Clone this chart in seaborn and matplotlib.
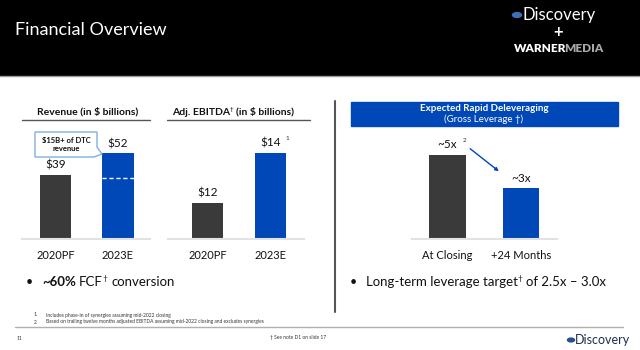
import numpy as np
import matplotlib
matplotlib.use('Agg')
import matplotlib.pyplot as plt
import matplotlib.patches as mpatches
import seaborn as sns

## Data
rev_cats     = ['2020PF', '2023E']
rev_vals     = [39, 52]
rev_labels   = ['$39', '$52']
dtc_rev      = 15
ebitda_cats  = ['2020PF', '2023E']
ebitda_vals  = [12, 14]
ebitda_labels= ['$12', '$14']
lev_cats     = ['At Closing', '+24 Months']
lev_vals     = [5, 3]
lev_labels   = ['~5x', '~3x']

## Style
dark  = '#3a3a3a'
blue  = '#0047b8'
ink   = '#111111'
W, H  = 640, 350
sns.set_theme(style='white')
plt.rcParams['font.family'] = ['Lato', 'DejaVu Sans']

fig = plt.figure(figsize=(6.4, 3.5), dpi=100)
renderer = fig.canvas.get_renderer()

def fx(x):
    return x / W

def fy(y):
    return 1 - y / H

def add_ax(x0, y0, x1, y1):
    return fig.add_axes([fx(x0), fy(y1), (x1 - x0) / W, (y1 - y0) / H])

def chain(x, y, pieces):
    # pieces: (text, size, weight, color, dy, gap) placed one after another
    for txt, size, weight, color, dy, gap in pieces:
        t = fig.text(fx(x), fy(y + dy), txt, fontsize=size, fontweight=weight, color=color,
                     ha='left', va='center')
        x = t.get_window_extent(renderer).x1 + gap

## Header band
fig.patches.append(mpatches.Rectangle((0, fy(75)), 1, 75 / H, transform=fig.transFigure,
                                      color='black', zorder=0))
fig.add_artist(plt.Line2D([0, 1], [fy(76), fy(76)], color='#9a9a9a', lw=1))
fig.text(fx(15), fy(30), 'Financial Overview', color='white', fontsize=13,
         va='center', ha='left')
fig.patches.append(mpatches.Circle((fx(517), fy(15)), 4.5 / W, transform=fig.transFigure,
                                   color='#3d6fb6', zorder=3))
fig.text(fx(522), fy(15), 'Discovery', color='white', fontsize=12, va='center', ha='left')
fig.text(fx(558), fy(32), '+', color='white', fontsize=12, fontweight='bold', va='center', ha='center')
chain(514, 48, [('WARNER', 8.5, 'heavy', 'white', 0, -2),
                ('MEDIA', 8.5, 'heavy', '#a8a8a8', 0, 0)])

## Generic bar panel
def bar_panel(ax, cats, vals, labels, px_per_unit, base, xlim):
    sns.barplot(x=cats, y=vals, hue=cats, palette=[dark, blue], width=0.5, saturation=1,
                legend=False, linewidth=0, ax=ax)
    ax.set_xlim(xlim)
    ax.set_ylim(base, base + 109 / px_per_unit)
    sns.despine(ax=ax, left=True, top=True, right=True)
    ax.spines['bottom'].set_color('#e2e2e2')
    ax.spines['bottom'].set_linewidth(1.5)
    ax.set_yticks([])
    ax.tick_params(axis='x', length=0, pad=8, labelsize=8, colors=ink)
    for cont, lab in zip(ax.containers, labels):
        ax.bar_label(cont, labels=[lab], padding=3, fontsize=8.5, color=ink)
    ax.set_facecolor('none')

## Revenue
ax1 = add_ax(22, 130, 150, 239)
bar_panel(ax1, rev_cats, rev_vals, rev_labels, 1.645, 0, (-0.536, 1.512))
ax1.hlines(rev_vals[1] - dtc_rev, 0.75, 1.25, colors='white', linestyles=(0, (3, 2)), lw=1)
fig.text(fx(88), fy(112), 'Revenue (in $ billions)', fontsize=7.5, fontweight='bold',
         ha='center', va='center', color=ink)
fig.add_artist(plt.Line2D([fx(22), fx(150)], [fy(120), fy(120)], color='#555555', lw=1))

# callout
callout = mpatches.Polygon([(fx(35), fy(132)), (fx(97), fy(132)), (fx(97), fy(147)),
                            (fx(102), fy(154)), (fx(94), fy(157)), (fx(35), fy(157))],
                           closed=True, transform=fig.transFigure, facecolor='white',
                           edgecolor='#7fb0e0', lw=1, zorder=5)
fig.patches.append(callout)
fig.text(fx(66), fy(144.5), '$15B+ of DTC\nrevenue', fontsize=5.5, fontweight='bold',
         ha='center', va='center', linespacing=1.3, color=ink, zorder=6)

## Adj. EBITDA
ax2 = add_ax(168, 130, 304, 239)
bar_panel(ax2, ebitda_cats, ebitda_vals, ebitda_labels, 25, 10.56, (-0.627, 1.532))
chain(172, 112, [('Adj. EBITDA', 7.5, 'bold', ink, 0, -0.5),
                 ('\u2020', 4.5, 'normal', ink, -2.5, 3),
                 ('(in $ billions)', 7.5, 'bold', ink, 0, 0)])
fig.add_artist(plt.Line2D([fx(167), fx(310)], [fy(120), fy(120)], color='#555555', lw=1))
fig.text(fx(287), fy(138), '1', fontsize=4.5, ha='center', va='center', color='#333333')

## Leverage
ax3 = add_ax(412, 130, 557, 239)
bar_panel(ax3, lev_cats, lev_vals, lev_labels, 16.9, 0, (-0.483, 1.49))
fig.text(fx(465), fy(141), '2', fontsize=4.5, ha='center', va='center', color='#333333')
fig.patches.append(mpatches.Rectangle((fx(351), fy(126)), 267 / W, 24 / H,
                                      transform=fig.transFigure, color=blue, zorder=1))
fig.text(fx(484), fy(108.5), 'Expected Rapid Deleveraging', fontsize=7, fontweight='bold',
         color='white', ha='center', va='center')
fig.text(fx(484), fy(119.5), '(Gross Leverage \u2020)', fontsize=7, color='white',
         ha='center', va='center')
fig.add_artist(mpatches.FancyArrowPatch((fx(468), fy(147)), (fx(501), fy(173)),
                                        transform=fig.transFigure, arrowstyle='-|>',
                                        mutation_scale=5, color=blue, lw=1))

# divider
fig.add_artist(plt.Line2D([fx(335), fx(335)], [fy(101), fy(312)], color='#555555', lw=1.5))

## Bullets
fig.text(fx(29), fy(282), '\u2022', fontsize=9, ha='center', va='center', color=ink)
chain(42, 282, [('~60%', 9.5, 'bold', ink, 0, 3),
                ('FCF', 9.5, 'normal', ink, 0, -0.5),
                ('\u2020', 6, 'normal', ink, -3, 4),
                ('conversion', 9.5, 'normal', ink, 0, 0)])

fig.text(fx(353), fy(282), '\u2022', fontsize=9, ha='center', va='center', color=ink)
chain(366, 282, [('Long-term leverage target', 9.5, 'normal', ink, 0, -0.5),
                 ('\u2020', 6, 'normal', ink, -3, 4),
                 ('of 2.5x \u2013 3.0x', 9.5, 'normal', ink, 0, 0)])

## Footnotes
fig.text(fx(34), fy(315), '1.', fontsize=3.5, ha='left', va='center', color='#333333')
fig.text(fx(46), fy(315), 'Includes phase-in of synergies assuming mid-2022 closing',
         fontsize=3.5, ha='left', va='center', color='#333333')
fig.text(fx(34), fy(322), '2.', fontsize=3.5, ha='left', va='center', color='#333333')
fig.text(fx(46), fy(322), 'Based on trailing twelve months adjusted EBITDA assuming mid-2022 closing and excludes synergies',
         fontsize=3.5, ha='left', va='center', color='#333333')
fig.add_artist(plt.Line2D([fx(15), fx(623)], [fy(327), fy(327)], color='#b0b0b0', lw=1))
fig.text(fx(17), fy(338), '11', fontsize=3.5, ha='left', va='center', color='#333333')
fig.text(fx(270), fy(338), '\u2020 See note D1 on slide 17', fontsize=3.5, ha='left', va='center', color='#333333')
fig.patches.append(mpatches.Circle((fx(571), fy(340)), 3.5 / W, transform=fig.transFigure,
                                   color='#2a4f8f', zorder=3))
fig.text(fx(575), fy(340), 'Discovery', color='#1e3050', fontsize=9, va='center', ha='left')

fig.savefig('out.png', dpi=100)
